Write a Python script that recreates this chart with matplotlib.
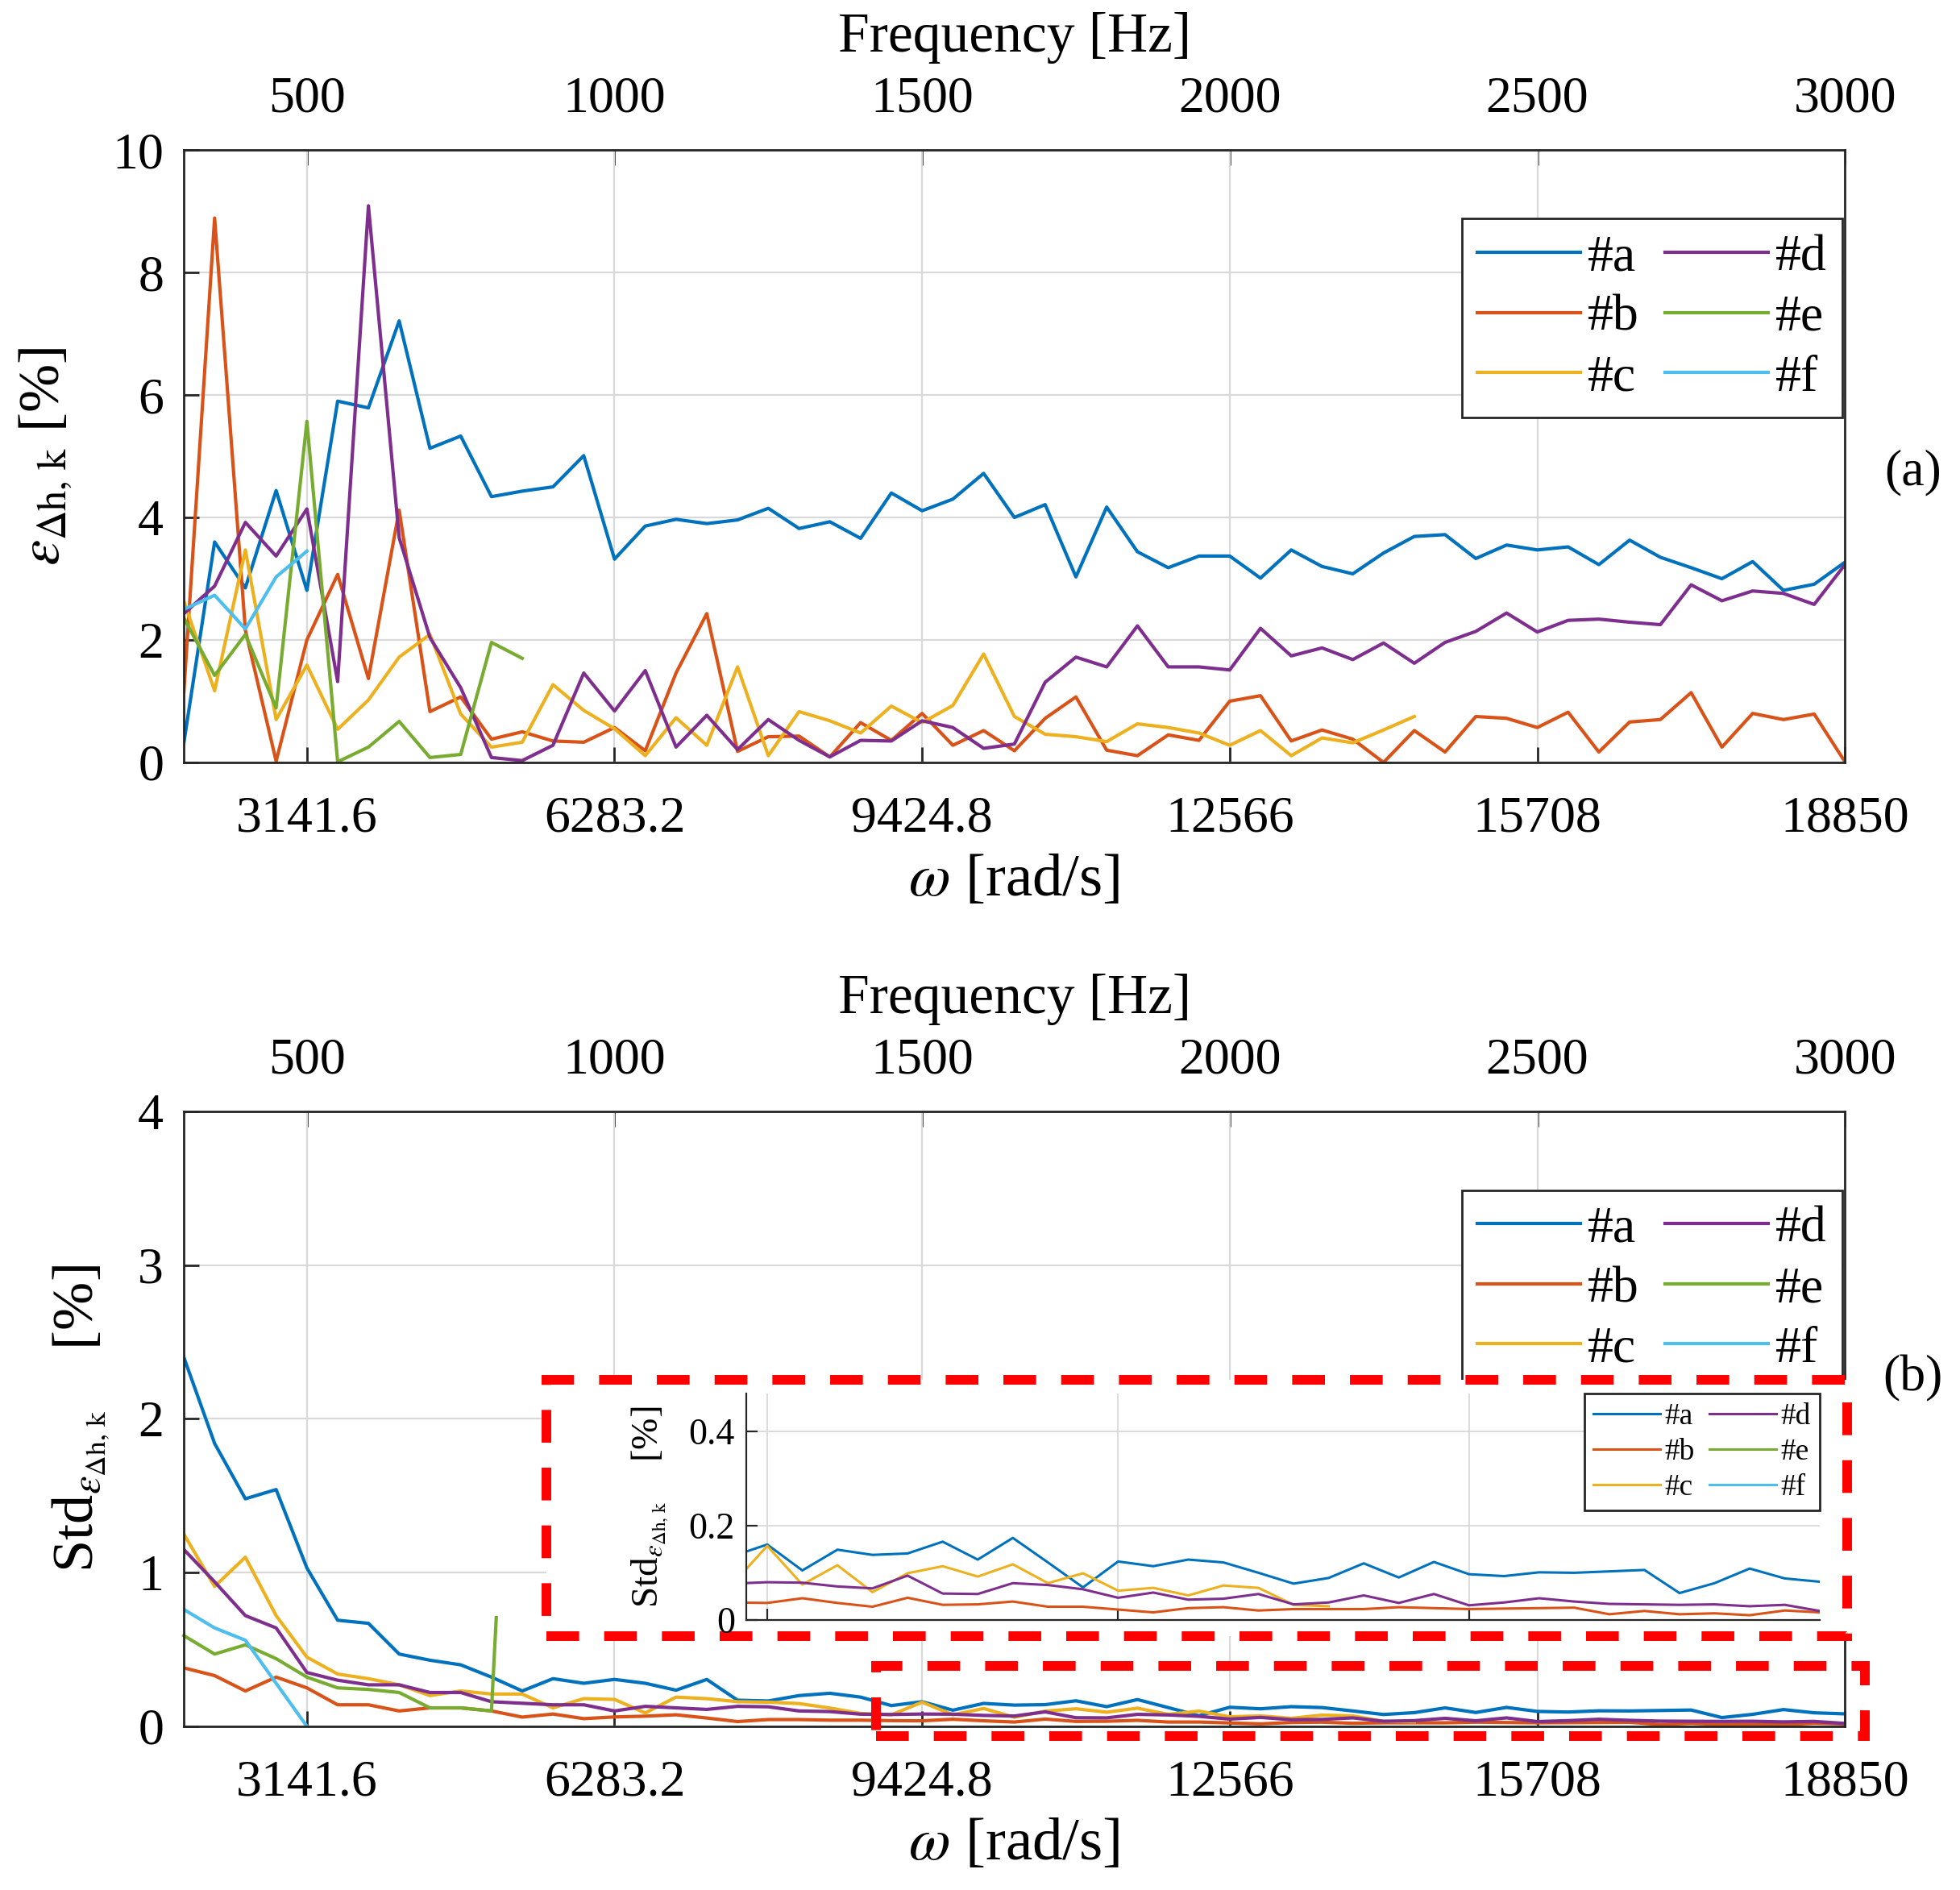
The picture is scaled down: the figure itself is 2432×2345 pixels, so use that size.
import numpy as np
import matplotlib
matplotlib.use("Agg")
import matplotlib.pyplot as plt
import matplotlib.patches as mpatches

plt.rcParams['font.family'] = ['Liberation Serif', 'DejaVu Serif']
plt.rcParams['mathtext.fontset'] = 'stix'

# frequency grid of the measurements [Hz]
freq_hz = np.arange(300, 3001, 50)
hz_ticks = [500, 1000, 1500, 2000, 2500, 3000]

labels = ['#a', '#b', '#c', '#d', '#e', '#f']
colors = ['#0072BD', '#D95319', '#EDB120', '#7E2F8E', '#77AC30', '#4DBEEE']

# (a) error per frequency [%]
err_a = [0.32, 3.6, 2.85, 4.44, 2.81, 5.9, 5.79, 7.21, 5.13, 5.33, 4.34, 4.43, 4.5, 5.01, 3.32,
         3.86, 3.97, 3.9, 3.96, 4.15, 3.82, 3.93, 3.66, 4.4, 4.11, 4.3, 4.72, 4.0, 4.21, 3.03,
         4.17, 3.44, 3.18, 3.37, 3.37, 3.01, 3.47, 3.2, 3.08, 3.42, 3.69, 3.72, 3.33, 3.55, 3.47,
         3.52, 3.23, 3.63, 3.35, 3.18, 3.0, 3.28, 2.81, 2.91, 3.27]
err_b = [1.15, 8.89, 2.16, 0.02, 2.0, 3.07, 1.37, 4.12, 0.83, 1.07, 0.38, 0.5, 0.35, 0.33, 0.57,
         0.19, 1.46, 2.43, 0.18, 0.42, 0.43, 0.09, 0.65, 0.36, 0.8, 0.28, 0.52, 0.19, 0.72, 1.07,
         0.2, 0.11, 0.45, 0.36, 1.0, 1.09, 0.35, 0.53, 0.38, 0.0, 0.52, 0.17, 0.75, 0.72, 0.57,
         0.82, 0.17, 0.66, 0.7, 1.14, 0.25, 0.8, 0.7, 0.79, 0.01]
err_c = [2.63, 1.17, 3.47, 0.7, 1.59, 0.54, 1.02, 1.72, 2.09, 0.79, 0.25, 0.33, 1.27, 0.85, 0.55,
         0.11, 0.73, 0.28, 1.56, 0.11, 0.83, 0.68, 0.48, 0.92, 0.65, 0.93, 1.77, 0.75, 0.46, 0.42,
         0.34, 0.63, 0.57, 0.48, 0.28, 0.52, 0.11, 0.40, 0.32, 0.53, 0.75]
err_d = [2.43, 2.88, 3.92, 3.37, 4.14, 1.32, 9.09, 3.67, 2.04, 1.22, 0.08, 0.03, 0.28, 1.46, 0.84,
         1.5, 0.25, 0.77, 0.21, 0.7, 0.36, 0.09, 0.36, 0.35, 0.68, 0.57, 0.23, 0.3, 1.31, 1.72,
         1.56, 2.23, 1.56, 1.56, 1.51, 2.19, 1.74, 1.87, 1.68, 1.95, 1.62, 1.96, 2.14, 2.44, 2.13,
         2.32, 2.34, 2.29, 2.25, 2.9, 2.64, 2.8, 2.76, 2.58, 3.23]
err_e = [2.36, 1.42, 2.09, 0.89, 5.57, 0.01, 0.25, 0.67, 0.08, 0.13, 1.96, 1.7]
err_f = [2.5, 2.73, 2.18, 3.03, 3.45]

# (b) standard deviation of the error [%]
std_a = [2.40, 1.84, 1.48, 1.54, 1.03, 0.69, 0.67, 0.47, 0.43, 0.40, 0.32, 0.23, 0.31, 0.28, 0.305,
         0.28, 0.235, 0.305, 0.17, 0.165, 0.20, 0.215, 0.19, 0.135, 0.16, 0.105, 0.149, 0.138, 0.141,
         0.166, 0.128, 0.174, 0.122, 0.069, 0.124, 0.114, 0.128, 0.122, 0.10, 0.077, 0.089, 0.12,
         0.09, 0.123, 0.097, 0.093, 0.101, 0.10, 0.103, 0.106, 0.057, 0.078, 0.109, 0.088, 0.081]
std_b = [0.38, 0.33, 0.23, 0.32, 0.25, 0.14, 0.14, 0.10, 0.12, 0.12, 0.10, 0.06, 0.08, 0.05, 0.061,
         0.066, 0.075, 0.054, 0.031, 0.044, 0.044, 0.04, 0.04, 0.037, 0.036, 0.046, 0.036, 0.028,
         0.047, 0.032, 0.033, 0.039, 0.028, 0.028, 0.022, 0.016, 0.025, 0.027, 0.02, 0.023, 0.023,
         0.023, 0.027, 0.025, 0.023, 0.024, 0.025, 0.026, 0.012, 0.019, 0.012, 0.014, 0.01, 0.02, 0.016]
std_c = [1.25, 0.91, 1.10, 0.72, 0.45, 0.34, 0.31, 0.27, 0.20, 0.23, 0.21, 0.21, 0.12, 0.18, 0.175,
         0.087, 0.19, 0.18, 0.16, 0.157, 0.148, 0.119, 0.084, 0.075, 0.157, 0.075, 0.116, 0.059,
         0.099, 0.114, 0.092, 0.118, 0.078, 0.099, 0.062, 0.068, 0.052, 0.073, 0.068, 0.032, 0.029]
std_d = [1.15, 0.94, 0.72, 0.64, 0.35, 0.30, 0.27, 0.27, 0.22, 0.22, 0.16, 0.15, 0.14, 0.14, 0.10,
         0.13, 0.12, 0.11, 0.13, 0.127, 0.10, 0.096, 0.079, 0.077, 0.080, 0.079, 0.071, 0.067, 0.094,
         0.056, 0.055, 0.078, 0.074, 0.065, 0.047, 0.058, 0.043, 0.045, 0.055, 0.033, 0.037, 0.052,
         0.036, 0.055, 0.031, 0.037, 0.046, 0.039, 0.034, 0.033, 0.032, 0.033, 0.029, 0.032, 0.019]
std_e = [0.59, 0.47, 0.53, 0.44, 0.32, 0.25, 0.24, 0.22, 0.12, 0.12, 0.10, 4.0]
std_f = [0.76, 0.64, 0.56, 0.28, 0.0]
# in the original the last #e segment of (b) is only visible up to this value
std_e_visible_top = 0.72

err_series = [err_a, err_b, err_c, err_d, err_e, err_f]
std_series = [std_a, std_b, std_c, std_d, std_e, std_f]

TICK_FS = 46
LABEL_FS = 50
EDGE = '#262626'


def style_axes(ax, ymax, yticks):
    ax.set_xlim(300, 3000)
    ax.set_ylim(0, ymax)
    ax.set_xticks(hz_ticks)
    ax.set_xticklabels([f"{2 * np.pi * f:.5g}" for f in hz_ticks])
    ax.set_yticks(yticks)
    ax.grid(True, color='#d9d9d9', lw=1.6)
    ax.set_axisbelow(True)
    for s in ax.spines.values():
        s.set_color(EDGE)
        s.set_linewidth(2.0)
    ax.tick_params(axis='both', direction='in', length=14, width=2.0, colors=EDGE,
                   labelcolor='black', labelsize=TICK_FS, top=False, right=False)
    ax.tick_params(axis='x', pad=30)
    ax.tick_params(axis='y', pad=18)
    ax.set_xlabel(r'$\omega$ [rad/s]', fontsize=LABEL_FS + 4, labelpad=10)

    top = ax.secondary_xaxis('top')
    top.set_xticks(hz_ticks)
    top.tick_params(direction='in', length=14, width=2.0, colors=EDGE, labelcolor='black',
                    labelsize=TICK_FS, pad=24)
    top.set_xlabel('Frequency [Hz]', fontsize=LABEL_FS, labelpad=22)


def add_legend(ax, anchor, fs, hl):
    leg = ax.legend(loc='upper right', bbox_to_anchor=anchor, ncol=2, fontsize=fs,
                    handlelength=hl, handletextpad=0.15, columnspacing=0.5,
                    labelspacing=0.25, borderpad=0.3, borderaxespad=0.0,
                    frameon=True, fancybox=False, framealpha=1.0)
    leg.get_frame().set_edgecolor(EDGE)
    leg.get_frame().set_linewidth(2.0)
    return leg


fig = plt.figure(figsize=(24.32, 23.45), dpi=100)

# ---- (a)
ax1 = fig.add_axes([0.0938, 0.5966, 0.8475, 0.3240])
for lab, col, vals in zip(labels, colors, err_series):
    ax1.plot(freq_hz[:len(vals)], vals, color=col, lw=3.0, label=lab)
style_axes(ax1, 10, [0, 2, 4, 6, 8, 10])
ax1.set_ylabel(r'$\varepsilon_{\Delta\mathrm{h,\,k}}$ [%]', fontsize=LABEL_FS + 2, labelpad=34)
add_legend(ax1, (0.9985, 0.888), TICK_FS, 2.0)
fig.text(0.976, 0.750, '(a)', fontsize=TICK_FS, ha='center', va='center')

# ---- (b)
ax2 = fig.add_axes([0.0938, 0.0866, 0.8475, 0.3254])
for lab, col, vals in zip(labels, colors, std_series):
    ln, = ax2.plot(freq_hz[:len(vals)], vals, color=col, lw=3.0, label=lab)
    if lab == '#e':
        clip = mpatches.Rectangle((0, -1), 5000, 1 + std_e_visible_top, transform=ax2.transData)
        ln.set_clip_path(clip)
style_axes(ax2, 4, [0, 1, 2, 3, 4])
ax2.set_ylabel(r'Std$_{\varepsilon_{\Delta\mathrm{h,\,k}}}$    [%]', fontsize=LABEL_FS + 2, labelpad=24)
add_legend(ax2, (0.9985, 0.872), TICK_FS, 2.0)
fig.text(0.976, 0.2705, '(b)', fontsize=TICK_FS, ha='center', va='center')

# zoom frames
dash = (0, (3.4, 2.6))
big = mpatches.Rectangle((0.2787, 0.1343), 0.9426 - 0.2787, 0.2698 - 0.1343,
                         transform=fig.transFigure, facecolor='white', edgecolor='#ff0000',
                         lw=8.6, linestyle=dash, zorder=2)
small = mpatches.Rectangle((0.4471, 0.0813), 0.9515 - 0.4471, 0.1184 - 0.0813,
                           transform=fig.transFigure, facecolor='none', edgecolor='#ff0000',
                           lw=8.6, linestyle=dash, zorder=5)
fig.add_artist(big)
fig.add_artist(small)

# ---- inset
axi = fig.add_axes([0.3807, 0.1429, 0.5478, 0.1197])
axi.set_zorder(3)
for lab, col, vals in zip(labels, colors, std_series):
    if lab == '#e':
        vals = vals[:-1]
    axi.plot(freq_hz[:len(vals)], vals, color=col, lw=2.2, label=lab)
axi.set_xlim(1470, 3000)
axi.set_ylim(0, 0.48)
axi.set_xticks([1500, 2000, 2500])
axi.set_xticklabels([])
axi.set_yticks([0, 0.2, 0.4])
axi.set_yticklabels(['0', '0.2', '0.4'])
axi.grid(True, color='#d9d9d9', lw=1.3)
axi.set_axisbelow(True)
for s in ['top', 'right']:
    axi.spines[s].set_visible(False)
for s in ['left', 'bottom']:
    axi.spines[s].set_color(EDGE)
    axi.spines[s].set_linewidth(1.6)
axi.tick_params(direction='in', length=10, width=1.6, colors=EDGE, labelcolor='black',
                labelsize=33, pad=10)
axi.set_ylabel(r'Std$_{\varepsilon_{\Delta\mathrm{h,\,k}}}$    [%]', fontsize=34, labelpad=16)
add_legend(axi, (1.0, 1.0), 27, 2.2)

fig.savefig('out.png', dpi=100)
